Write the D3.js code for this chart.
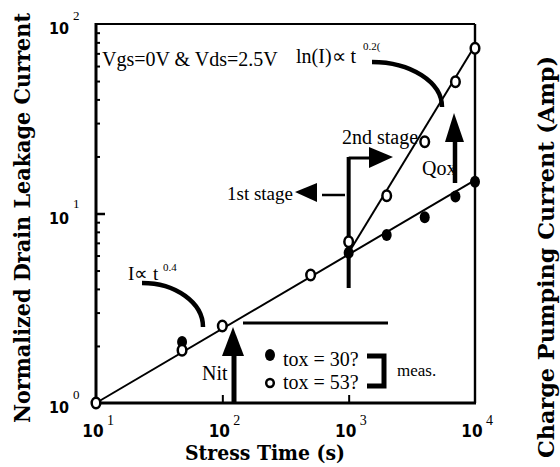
<!DOCTYPE html>
<html><head><meta charset="utf-8">
<script src="https://cdn.jsdelivr.net/npm/d3@7"></script>
<style>body{margin:0;background:#fff} svg{display:block}</style>
</head><body>
<svg id="c" width="560" height="467"></svg>
<script>
// ---- data ----
const xTicks = [10, 100, 1000, 10000];
const xTickExp = ["1", "2", "3", "4"];
const yTicks = [1, 10, 100];
const yTickExp = ["0", "1", "2"];
const tox30_t = [48, 1000, 2000, 4000, 7000, 10000];
const tox30_I = [2.1, 6.2, 7.7, 9.55, 12.3, 14.7];
const tox53_t = [10, 48, 100, 500, 1000, 2000, 4000, 7000, 10000];
const tox53_I = [1, 1.9, 2.55, 4.74, 7.1, 12.4, 23.9, 49.6, 74.4];
const fit1_t = [10, 10000];
const fit1_I = [1, 15];
const fit2_t = [1000, 10000];
const fit2_I = [6.2, 77];
const legendLabels = ["tox = 30?", "tox = 53?"];

// ---- layout ----
const svg = d3.select("#c");
const L = 96, R = 475, T = 24, B = 403;
const x = d3.scaleLog().domain([10, 10000]).range([L, R]);
const y = d3.scaleLog().domain([1, 100]).range([B, T]);
const serif = "'Liberation Serif','Times New Roman',serif";
const boldSans = "'DejaVu Sans Condensed','DejaVu Sans',sans-serif";
const heavy = "'DejaVu Serif Condensed','DejaVu Serif',serif";

// minor/major ticks on left axis (inward)
const minor = [];
[1, 10].forEach(d => { for (let k = 2; k <= 9; k++) minor.push(d * k); });
const gm = svg.append("g").attr("transform", `translate(${L},0)`)
  .call(d3.axisRight(y).tickValues(minor).tickSize(4).tickFormat(""));
gm.select(".domain").remove();
gm.selectAll("line").attr("stroke", "#000").attr("stroke-width", 2);
const gM = svg.append("g").attr("transform", `translate(${L},0)`)
  .call(d3.axisRight(y).tickValues([10]).tickSize(9).tickFormat(""));
gM.select(".domain").remove();
gM.selectAll("line").attr("stroke", "#000").attr("stroke-width", 2.5);
const gx = svg.append("g").attr("transform", `translate(0,${B})`)
  .call(d3.axisTop(x).tickValues([100, 1000]).tickSize(8).tickFormat(""));
gx.select(".domain").remove();
gx.selectAll("line").attr("stroke", "#000").attr("stroke-width", 2);

// frame
svg.append("line").attr("x1", L).attr("x2", R).attr("y1", T).attr("y2", T).attr("stroke", "#000").attr("stroke-width", 2.2);
svg.append("line").attr("x1", R).attr("x2", R).attr("y1", T).attr("y2", B).attr("stroke", "#000").attr("stroke-width", 2.4);
svg.append("line").attr("x1", L).attr("x2", L).attr("y1", T - 1).attr("y2", B + 1.5).attr("stroke", "#000").attr("stroke-width", 3);
svg.append("line").attr("x1", L).attr("x2", R + 1).attr("y1", B).attr("y2", B).attr("stroke", "#000").attr("stroke-width", 3);

// tick labels
yTicks.forEach((v, i) => {
  svg.append("text").attr("x", 69).attr("y", y(v) + 10)
    .attr("text-anchor", "end").attr("font-family", boldSans).attr("font-weight", "bold")
    .attr("font-size", 16).text("10");
  svg.append("text").attr("x", 73).attr("y", y(v) + (i === 1 ? -6 : -4)).attr("font-family", serif)
    .attr("font-size", 13).text(yTickExp[i]);
});
xTicks.forEach((v, i) => {
  svg.append("text").attr("x", x(v) - 3).attr("y", 437)
    .attr("text-anchor", "middle").attr("font-family", boldSans).attr("font-weight", "bold")
    .attr("font-size", 17).text("10");
  svg.append("text").attr("x", x(v) + 11).attr("y", 425).attr("font-family", serif)
    .attr("font-size", 14).text(xTickExp[i]);
});

// axis titles
svg.append("text").attr("transform", "translate(30,218) rotate(-90)")
  .attr("text-anchor", "middle").attr("font-family", heavy).attr("font-weight", "bold")
  .attr("font-size", 22).attr("textLength", 410).attr("lengthAdjust", "spacingAndGlyphs")
  .text("Normalized Drain Leakage Current");
svg.append("text").attr("transform", "translate(554,257) rotate(-90)")
  .attr("text-anchor", "middle").attr("font-family", heavy).attr("font-weight", "bold")
  .attr("font-size", 22).attr("textLength", 402).attr("lengthAdjust", "spacingAndGlyphs")
  .text("Charge Pumping Current (Amp)");
svg.append("text").attr("x", 265).attr("y", 460)
  .attr("text-anchor", "middle").attr("font-family", heavy).attr("font-weight", "bold")
  .attr("font-size", 20).attr("textLength", 160).attr("lengthAdjust", "spacingAndGlyphs")
  .text("Stress Time (s)");

// fit lines
const line = d3.line().x(d => x(d[0])).y(d => y(d[1]));
svg.append("path").datum(d3.zip(fit1_t, fit1_I)).attr("d", line)
  .attr("fill", "none").attr("stroke", "#000").attr("stroke-width", 2);
svg.append("path").datum(d3.zip(fit2_t, fit2_I)).attr("d", line)
  .attr("fill", "none").attr("stroke", "#000").attr("stroke-width", 2);

// annotations
const ann = svg.append("g").attr("stroke", "#000").attr("fill", "none");
ann.append("path").attr("d", "M142,283 A61,44 0 0 1 203,327").attr("stroke-width", 4.5);
ann.append("path").attr("d", "M372,62 A70,45 0 0 1 442,107").attr("stroke-width", 4.5);
// stage divider
ann.append("line").attr("x1", x(1000)).attr("x2", x(1000)).attr("y1", 157).attr("y2", 288).attr("stroke-width", 4);
ann.append("line").attr("x1", x(1000)).attr("x2", 371).attr("y1", 158).attr("y2", 158).attr("stroke-width", 3);
ann.append("line").attr("x1", 322).attr("x2", 345).attr("y1", 195).attr("y2", 195).attr("stroke-width", 2.5);
// Qox, Nit arrows
ann.append("line").attr("x1", 455).attr("x2", 455).attr("y1", 140).attr("y2", 183).attr("stroke-width", 4.5);
ann.append("line").attr("x1", 234).attr("x2", 234).attr("y1", 354).attr("y2", 403).attr("stroke-width", 5);
// legend line and bracket
ann.append("line").attr("x1", 243).attr("x2", 388).attr("y1", 323).attr("y2", 323).attr("stroke-width", 3);
ann.append("path").attr("d", "M367,356 H384 V386 H367").attr("stroke-width", 5);
const heads = svg.append("g").attr("fill", "#000");
heads.append("path").attr("d", "M369,147 L369,168 L393,157 Z");
heads.append("path").attr("d", "M295,192 L317,183 L317,202 Z");
heads.append("path").attr("d", "M454,113 L445,142 L464,142 Z");
heads.append("path").attr("d", "M233,327 L222,356 L244,356 Z");

// data markers
svg.append("g").selectAll("ellipse").data(d3.zip(tox30_t, tox30_I)).join("ellipse")
  .attr("cx", d => x(d[0])).attr("cy", d => y(d[1])).attr("rx", 5).attr("ry", 6).attr("fill", "#000");
svg.append("g").selectAll("ellipse").data(d3.zip(tox53_t, tox53_I)).join("ellipse")
  .attr("cx", d => x(d[0])).attr("cy", d => y(d[1])).attr("rx", 4.3).attr("ry", 5.3)
  .attr("fill", "#fff").attr("stroke", "#000").attr("stroke-width", 2.5);

// legend
svg.append("ellipse").attr("cx", 270).attr("cy", 355).attr("rx", 5).attr("ry", 6).attr("fill", "#000");
svg.append("ellipse").attr("cx", 270).attr("cy", 383).attr("rx", 3.8).attr("ry", 4).attr("fill", "#fff")
  .attr("stroke", "#000").attr("stroke-width", 2.5);
svg.append("text").attr("x", 283).attr("y", 366).attr("font-family", serif).attr("font-size", 20).text(legendLabels[0]);
svg.append("text").attr("x", 283).attr("y", 389).attr("font-family", serif).attr("font-size", 20).text(legendLabels[1]);
svg.append("text").attr("x", 397).attr("y", 376).attr("font-family", serif).attr("font-size", 17).text("meas.");

// text annotations
const txt = (s, px, py, fs) => svg.append("text").attr("x", px).attr("y", py)
  .attr("font-family", serif).attr("font-size", fs).text(s);
txt("Vgs=0V & Vds=2.5V", 102, 66, 20);
txt("ln(I)\u221D t", 296, 63, 20);
txt("0.2(", 363, 50, 11);
txt("I\u221D t", 128, 280, 19);
txt("0.4", 163, 271, 11);
txt("1st stage", 227, 200, 19);
txt("2nd stage", 342, 144, 20);
txt("Qox", 422, 175, 20);
txt("Nit", 202, 380, 20);
</script>
</body></html>
